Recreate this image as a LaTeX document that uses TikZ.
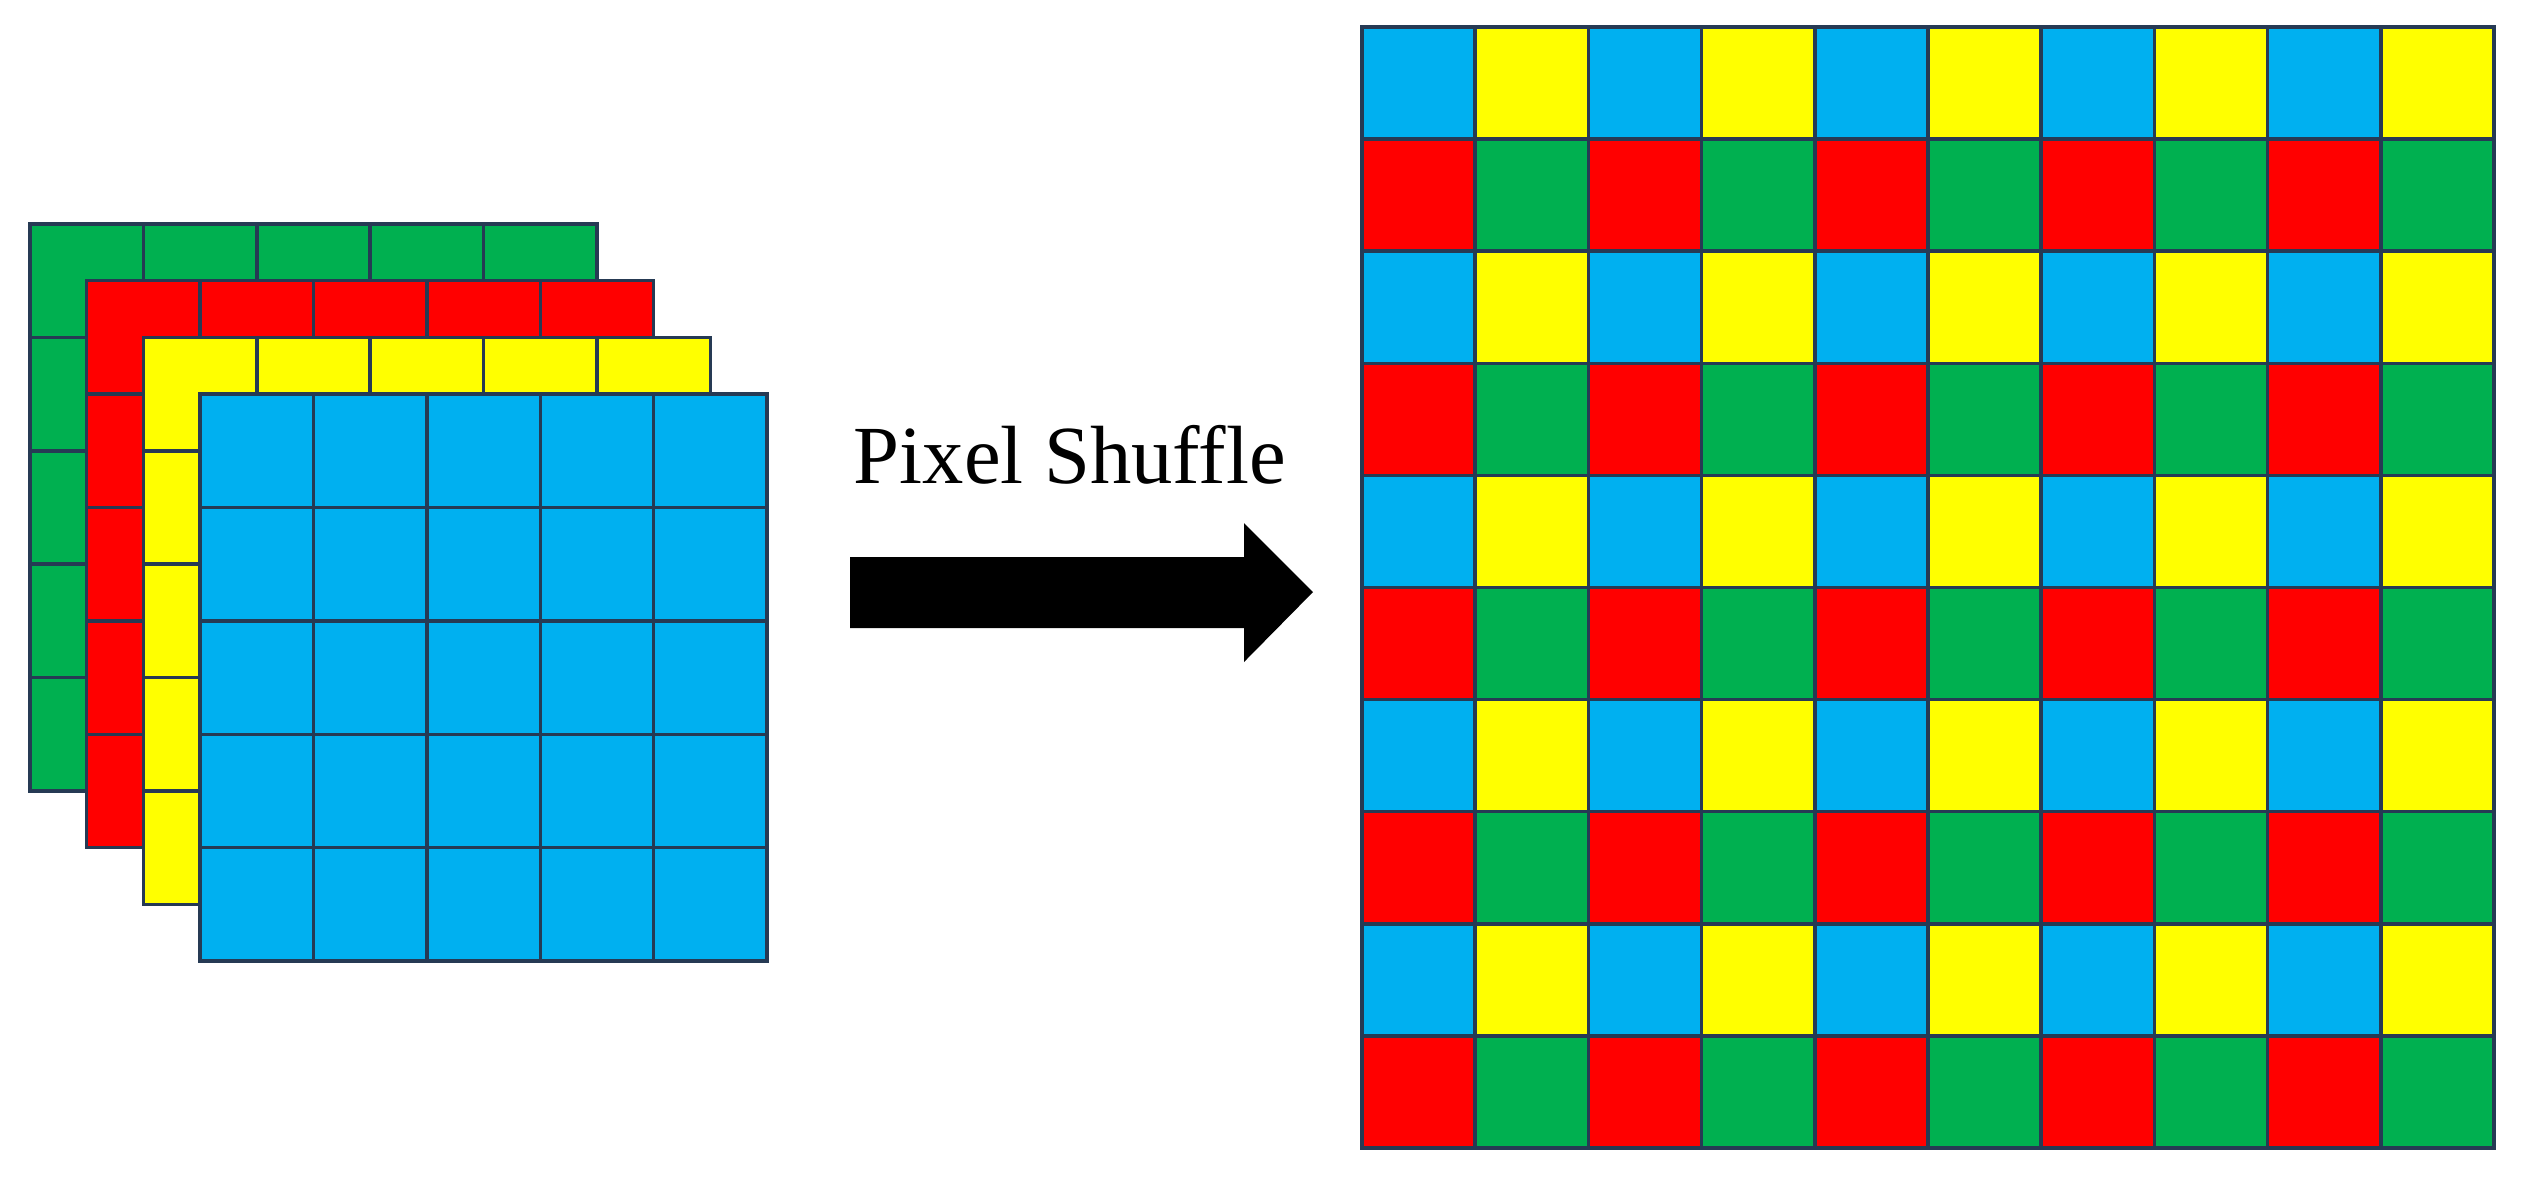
\documentclass[tikz,border=0pt]{standalone}
\usepackage{fontspec}
\setmainfont{Liberation Serif}
\usetikzlibrary{positioning}
\definecolor{chgreen}{RGB}{0,176,80}
\definecolor{chred}{RGB}{255,0,0}
\definecolor{chyellow}{RGB}{255,255,0}
\definecolor{chblue}{RGB}{0,176,240}
\definecolor{edge}{RGB}{38,58,84}

\begin{document}
\begin{tikzpicture}[
      cell/.style={draw=edge, line width=1pt, minimum width=11.34mm,
                   minimum height=11.34mm, inner sep=0pt, outer sep=0pt},
      outcell/.style={draw=edge, line width=1pt, minimum width=11.32mm,
                      minimum height=11.21mm, inner sep=0pt, outer sep=0pt},
      caption/.style={font=\fontsize{23.5}{28}\selectfont, inner sep=0pt},
    ]
    \useasboundingbox (0,0) rectangle (25.21,-11.85);

    % input channels, back to front
    \foreach \layer/\col [count=\k from 0] in
        {green/chgreen, red/chred, yellow/chyellow, blue/chblue} {
      \foreach \r in {0,...,4}
        \foreach \c in {0,...,4}
          \node[cell, fill=\col] (\layer-\r-\c)
            at ({0.867+0.567*\k+1.134*\c}, {-2.807-0.567*\k-1.134*\r}) {};
    }

    % shuffled output
    \foreach \r in {0,...,9}
      \foreach \c in {0,...,9} {
        \pgfmathtruncatemacro\kind{2*mod(\r,2)+mod(\c,2)}
        \edef\col{\ifcase\kind chblue\or chyellow\or chred\or chgreen\fi}
        \node[outcell, fill=\col] (out-\r-\c)
          at ({14.186+1.132*\c}, {-0.8305-1.121*\r}) {};
      }

    % block arrow and its label
    \fill[black] (8.50,-5.57) -- (12.44,-5.57) -- (12.44,-5.23) -- (13.13,-5.92)
      -- (12.44,-6.62) -- (12.44,-6.28) -- (8.50,-6.28) -- cycle;
    \node[caption, anchor=base] (shuffle) at (10.70,-4.83) {Pixel Shuffle};
  \end{tikzpicture}
\end{document}
